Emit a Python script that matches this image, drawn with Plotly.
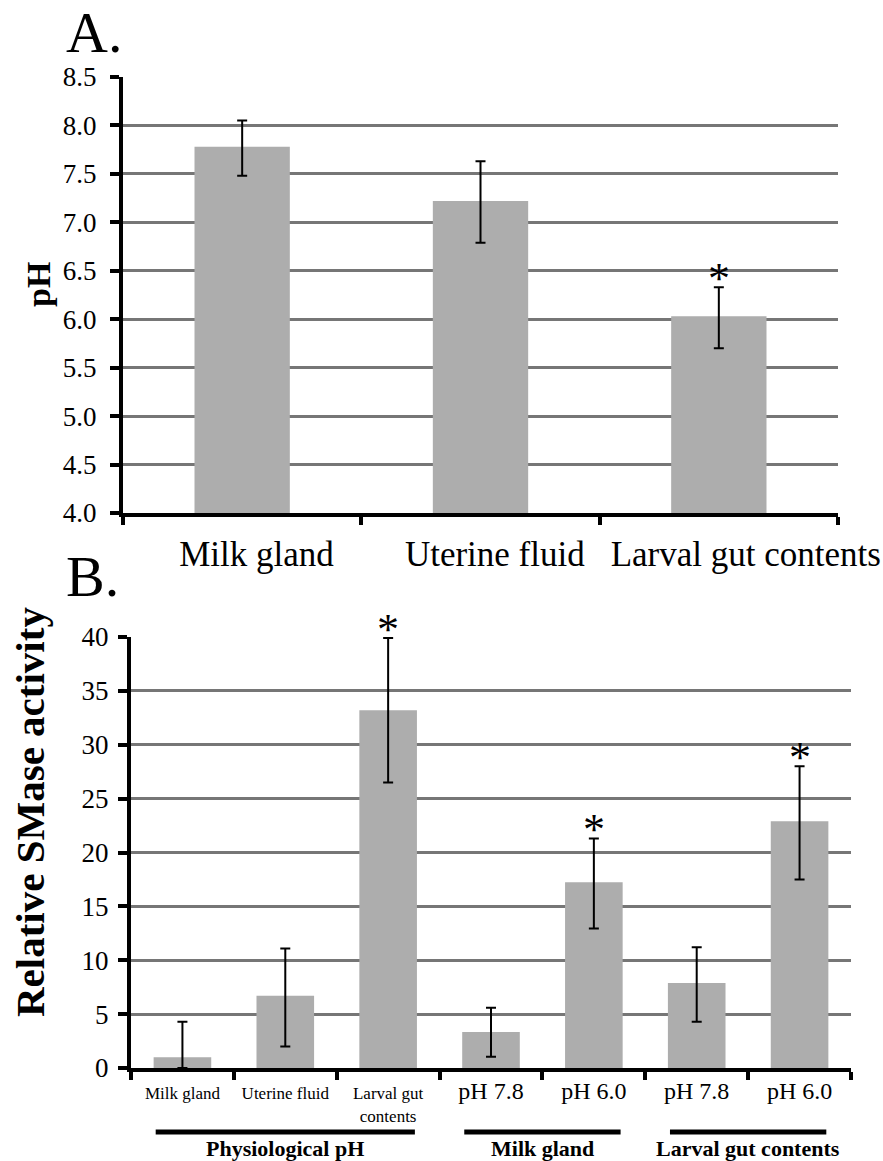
import plotly.graph_objects as go

# ---------------- Data ----------------
# Panel A: pH of tissues
cats_A = ["Milk gland", "Uterine fluid", "Larval gut contents"]
mean_A = [7.78, 7.22, 6.03]
upper_A = [8.05, 7.63, 6.33]
lower_A = [7.48, 6.79, 5.70]
sig_A = [False, False, True]

# Panel B: relative SMase activity
cats_B = ["Milk gland", "Uterine fluid", "Larval gut<br>contents",
          "pH 7.8", "pH 6.0", "pH 7.8", "pH 6.0"]
small_label_B = [True, True, True, False, False, False, False]
mean_B = [1.0, 6.7, 33.2, 3.35, 17.25, 7.9, 22.9]
upper_B = [4.3, 11.1, 39.9, 5.6, 21.3, 11.2, 28.0]
lower_B = [0.0, 2.0, 26.5, 1.05, 12.95, 4.3, 17.5]
sig_B = [False, False, True, False, True, False, True]

groups_B = ["Physiological pH", "Milk gland", "Larval gut contents"]
group_start_B = [0, 3, 5]
group_end_B = [2, 4, 6]

# ---------------- Styling ----------------
W, H = 883, 1161
SERIF = "Liberation Serif"
BAR = "#adadad"
GRID = "#767676"
LABEL_SHIFT_A = [0.06, 0.06, 0.113]   # visual offset of panel-A category labels

def px_x(v):
    return v / W

def px_y(v):
    return 1 - v / H

xA = list(range(len(cats_A)))
xB = list(range(len(cats_B)))
bounds_A = [i - 0.5 for i in range(len(cats_A) + 1)]
bounds_B = [i - 0.5 for i in range(len(cats_B) + 1)]

fig = go.Figure()

fig.add_trace(go.Bar(
    x=xA, y=mean_A, width=0.4, marker_color=BAR, marker_line_width=0,
    error_y=dict(type="data", symmetric=False,
                 array=[u - m for u, m in zip(upper_A, mean_A)],
                 arrayminus=[m - l for m, l in zip(mean_A, lower_A)],
                 color="black", thickness=2, width=5),
    xaxis="x", yaxis="y", showlegend=False, hoverinfo="skip"))

fig.add_trace(go.Bar(
    x=xB, y=mean_B, width=0.56, marker_color=BAR, marker_line_width=0,
    error_y=dict(type="data", symmetric=False,
                 array=[u - m for u, m in zip(upper_B, mean_B)],
                 arrayminus=[m - l for m, l in zip(mean_B, lower_B)],
                 color="black", thickness=2, width=5),
    xaxis="x2", yaxis="y2", showlegend=False, hoverinfo="skip"))

ticktext_B = []
for t, s in zip(cats_B, small_label_B):
    size = 17 if s else 24
    parts = t.split("<br>")
    ticktext_B.append("<br>".join(f'<span style="font-size:{size}px">{p}</span>' for p in parts))

line_common = dict(showline=True, linecolor="black", linewidth=4,
                   zeroline=False, automargin=False)

fig.update_layout(
    template="none",
    width=W, height=H,
    margin=dict(l=0, r=0, t=0, b=0, pad=0, autoexpand=False),
    paper_bgcolor="white", plot_bgcolor="white",
    font=dict(family=SERIF, color="black"),
    xaxis=dict(domain=[px_x(123), px_x(838)], anchor="y",
               range=[-0.5, len(cats_A) - 0.5], tickmode="array",
               tickvals=[x + s for x, s in zip(xA, LABEL_SHIFT_A)],
               ticktext=cats_A, showgrid=False, ticks="",
               tickfont=dict(size=35, family=SERIF),
               ticklabelstandoff=7,
               minor=dict(tickmode="array", tickvals=bounds_A, ticks="outside",
                          ticklen=8, tickwidth=4, tickcolor="black", showgrid=False),
               **line_common),
    yaxis=dict(domain=[px_y(513), px_y(77)], anchor="x",
               range=[4, 8.5], dtick=0.5, tick0=4, tickformat=".1f",
               showgrid=True, gridcolor=GRID, gridwidth=3,
               ticks="outside", ticklen=9, tickwidth=4, tickcolor="black",
               tickfont=dict(size=27, family=SERIF),
               ticklabelstandoff=8,
               **line_common),
    xaxis2=dict(domain=[px_x(131), px_x(851)], anchor="y2",
                range=[-0.5, len(cats_B) - 0.5], tickmode="array",
                tickvals=xB, ticktext=ticktext_B, showgrid=False, ticks="",
                tickfont=dict(size=17, family=SERIF),
                ticklabelstandoff=7,
                minor=dict(tickmode="array", tickvals=bounds_B, ticks="outside",
                           ticklen=8, tickwidth=4, tickcolor="black", showgrid=False),
                **line_common),
    yaxis2=dict(domain=[px_y(1068), px_y(637)], anchor="x2",
                range=[0, 40], dtick=5, tick0=0,
                showgrid=True, gridcolor=GRID, gridwidth=3,
                ticks="outside", ticklen=9, tickwidth=4, tickcolor="black",
                tickfont=dict(size=27, family=SERIF),
                ticklabelstandoff=4,
                **line_common),
)

annotations = []
# panel letters
annotations.append(dict(text="A.", xref="paper", yref="paper",
                        x=px_x(64), y=px_y(32), xanchor="left", yanchor="middle",
                        showarrow=False, font=dict(size=58, family=SERIF)))
annotations.append(dict(text="B.", xref="paper", yref="paper",
                        x=px_x(64), y=px_y(576), xanchor="left", yanchor="middle",
                        showarrow=False, font=dict(size=58, family=SERIF)))
# axis titles
annotations.append(dict(text="<b>pH</b>", xref="paper", yref="paper",
                        x=px_x(38), y=px_y(285), textangle=-90,
                        xanchor="center", yanchor="middle", showarrow=False,
                        font=dict(size=34, family=SERIF)))
annotations.append(dict(text="<b>Relative SMase activity</b>", xref="paper", yref="paper",
                        x=px_x(30), y=px_y(812), textangle=-90,
                        xanchor="center", yanchor="middle", showarrow=False,
                        font=dict(size=41, family=SERIF)))
# significance stars
for i, (s, u) in enumerate(zip(sig_A, upper_A)):
    if s:
        annotations.append(dict(text="*", x=xA[i], y=u, xref="x", yref="y",
                                yanchor="bottom", showarrow=False, yshift=-18,
                                font=dict(size=44, family=SERIF)))
for i, (s, u) in enumerate(zip(sig_B, upper_B)):
    if s:
        annotations.append(dict(text="*", x=xB[i], y=u, xref="x2", yref="y2",
                                yanchor="bottom", showarrow=False, yshift=-18,
                                font=dict(size=44, family=SERIF)))
# group labels
shapes = []
for g, a, b in zip(groups_B, group_start_B, group_end_B):
    shapes.append(dict(type="line", xref="x2", yref="paper",
                       x0=a - 0.26, x1=b + 0.26, y0=px_y(1132), y1=px_y(1132),
                       line=dict(color="black", width=5)))
    annotations.append(dict(text=f"<b>{g}</b>", x=(a + b) / 2, y=px_y(1148),
                            xref="x2", yref="paper", xanchor="center", yanchor="middle",
                            showarrow=False, font=dict(size=22, family=SERIF)))

fig.update_layout(annotations=annotations, shapes=shapes)

fig.write_html("out.html")
